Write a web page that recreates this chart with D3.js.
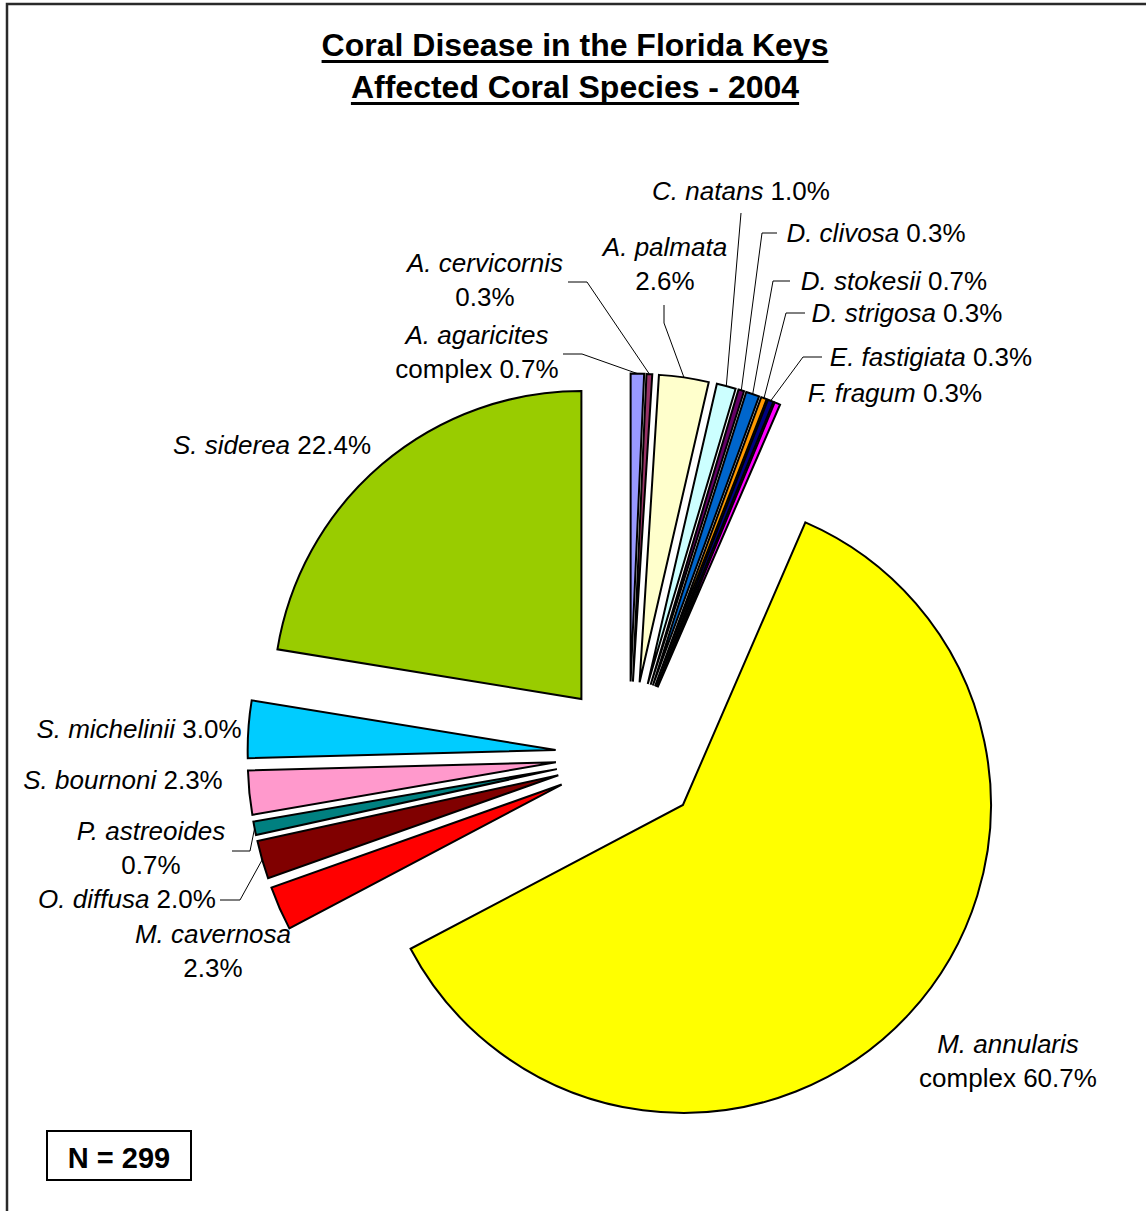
<!DOCTYPE html>
<html>
<head>
<meta charset="utf-8">
<script src="https://cdn.jsdelivr.net/npm/d3@7"></script>
<style>
  html, body { margin: 0; padding: 0; background: #fff; }
  svg { display: block; }
  text { font-family: "Liberation Sans", Arial, sans-serif; fill: #000; }
</style>
</head>
<body>
<script>
// Affected coral species, share of diseased colonies (%), clockwise from 12 o'clock
const species = [
  "A. agaricites", "A. cervicornis", "A. palmata", "C. natans", "D. clivosa",
  "D. stokesii", "D. strigosa", "E. fastigiata", "F. fragum", "M. annularis",
  "M. cavernosa", "O. diffusa", "P. astreoides", "S. bournoni", "S. michelinii",
  "S. siderea"
];
const qualifiers = ["complex", "", "", "", "", "", "", "", "", "complex", "", "", "", "", "", ""];
const percents = [0.7, 0.3, 2.6, 1.0, 0.3, 0.7, 0.3, 0.3, 0.3, 60.7, 2.3, 2.0, 0.7, 2.3, 3.0, 22.4];
const sliceColors = [
  "#9999FF", "#993366", "#FFFFCC", "#CCFFFF", "#660066",
  "#0066CC", "#FF9900", "#000080", "#FF00FF", "#FFFF00",
  "#FF0000", "#800000", "#008080", "#FF99CC", "#00CCFF",
  "#99CC00"
];
const titleLines = ["Coral Disease in the Florida Keys", "Affected Coral Species - 2004"];
const sampleSize = 299;

// Label placement: centre x, first baseline, two-line flag, leader elbow points
const labelLayout = [
  { x: 477, y: 344, twoLine: true,  leader: [[563, 354], [582, 354]] },
  { x: 485, y: 272, twoLine: true,  leader: [[568, 282], [587, 282]] },
  { x: 665, y: 256, twoLine: true,  leader: [[664, 305], [664, 323]] },
  { x: 741, y: 200, twoLine: false, leader: [[741, 213]] },
  { x: 876, y: 242, twoLine: false, leader: [[777, 233], [762, 233]] },
  { x: 894, y: 290, twoLine: false, leader: [[790, 281], [773, 281]] },
  { x: 907, y: 322, twoLine: false, leader: [[805, 313], [786, 313]] },
  { x: 931, y: 366, twoLine: false, leader: [[822, 357], [803, 357]] },
  { x: 895, y: 402, twoLine: false, leader: null },
  { x: 1008, y: 1053, twoLine: true, leader: null },
  { x: 213, y: 943, twoLine: true,  leader: null },
  { x: 127, y: 908, twoLine: false, leader: [[220, 900], [240, 900]] },
  { x: 151, y: 840, twoLine: true,  leader: [[232, 851], [250, 851]] },
  { x: 123, y: 789, twoLine: false, leader: null },
  { x: 139, y: 738, twoLine: false, leader: null },
  { x: 272, y: 454, twoLine: false, leader: null }
];

const W = 1146, H = 1211;
const cx = 629, cy = 755, R = 308, EXPLODE = 73.5;
const LABEL_SIZE = 26, LINE_GAP = 34;

const svg = d3.select("body").append("svg")
  .attr("width", W).attr("height", H)
  .attr("viewBox", `0 0 ${W} ${H}`);

// Chart area frame (continues off the right and bottom edges)
svg.append("path")
  .attr("d", `M7,${H + 5} L7,4 L${W + 5},4`)
  .attr("fill", "none").attr("stroke", "#2a2a2a").attr("stroke-width", 2.5);

// Title with underline
const titleG = svg.append("g");
const titleBase = [56, 98];
titleLines.forEach((t, i) => {
  const txt = titleG.append("text")
    .attr("x", 575).attr("y", titleBase[i])
    .attr("text-anchor", "middle")
    .attr("font-size", 32).attr("font-weight", "bold")
    .text(t);
  const w = txt.node().getComputedTextLength();
  titleG.append("rect")
    .attr("x", 575 - w / 2).attr("y", titleBase[i] + 4)
    .attr("width", w).attr("height", 3)
    .attr("fill", "#000");
});

// Pie geometry
const pie = d3.pie().sort(null).value(d => d)(percents);
const arc = d3.arc().innerRadius(0).outerRadius(R);
const mid = d => (d.startAngle + d.endAngle) / 2;
const offset = d => [EXPLODE * Math.sin(mid(d)), -EXPLODE * Math.cos(mid(d))];

const pieG = svg.append("g").attr("transform", `translate(${cx},${cy})`);
pieG.selectAll("path.slice")
  .data(pie)
  .join("path")
  .attr("class", "slice")
  .attr("transform", d => { const o = offset(d); return `translate(${o[0]},${o[1]})`; })
  .attr("d", arc)
  .attr("fill", (d, i) => sliceColors[i])
  .attr("stroke", "#000")
  .attr("stroke-width", 2)
  .attr("stroke-linejoin", "miter");

// Leader lines: from label elbow to the middle of each slice's outer arc
const fmt = v => d3.format(".1f")(v) + "%";
pie.forEach((d, i) => {
  const lay = labelLayout[i];
  if (!lay.leader) return;
  const o = offset(d);
  const end = [cx + o[0] + R * Math.sin(mid(d)), cy + o[1] - R * Math.cos(mid(d))];
  const pts = lay.leader.concat([end]);
  svg.append("path")
    .attr("d", d3.line()(pts))
    .attr("fill", "none").attr("stroke", "#000").attr("stroke-width", 1);
});

// Data labels
const labelG = svg.append("g").attr("font-size", LABEL_SIZE);
species.forEach((name, i) => {
  const lay = labelLayout[i];
  const tail = (qualifiers[i] ? qualifiers[i] + " " : "") + fmt(percents[i]);
  if (lay.twoLine) {
    labelG.append("text")
      .attr("x", lay.x).attr("y", lay.y).attr("text-anchor", "middle")
      .attr("font-style", "italic").text(name);
    labelG.append("text")
      .attr("x", lay.x).attr("y", lay.y + LINE_GAP).attr("text-anchor", "middle")
      .text(tail);
  } else {
    const t = labelG.append("text")
      .attr("x", lay.x).attr("y", lay.y).attr("text-anchor", "middle");
    t.append("tspan").attr("font-style", "italic").text(name);
    t.append("tspan").text(" " + tail);
  }
});

// Sample size box
svg.append("rect")
  .attr("x", 47).attr("y", 1131).attr("width", 144).attr("height", 49)
  .attr("fill", "#fff").attr("stroke", "#000").attr("stroke-width", 2);
svg.append("text")
  .attr("x", 119).attr("y", 1168).attr("text-anchor", "middle")
  .attr("font-size", 29).attr("font-weight", "bold")
  .text("N = " + sampleSize);
</script>
</body>
</html>
